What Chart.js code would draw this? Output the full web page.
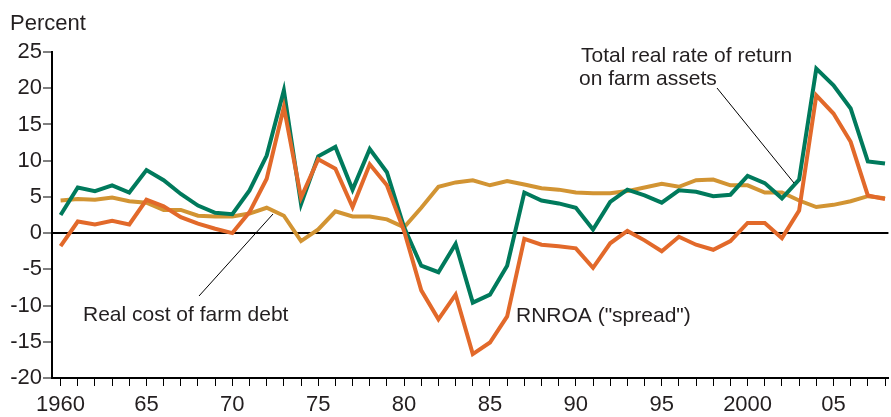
<!DOCTYPE html>
<html>
<head>
<meta charset="utf-8">
<script src="https://cdn.jsdelivr.net/npm/chart.js@4/dist/chart.umd.min.js"></script>
<style>
  body { margin: 0; background: #fff; }
  canvas { display: block; }
</style>
</head>
<body>
<canvas id="myChart" width="891" height="417"></canvas>
<script>
// anos 1960-2008
const years = [];
for (let y = 1960; y <= 2008; y++) years.push(y);

// Total real rate of return on farm assets
const totalReturn = [2.5, 6.3, 5.8, 6.6, 5.6, 8.7, 7.3, 5.4, 3.8, 2.8,
  2.6, 5.9, 10.7, 19.7, 4.0, 10.6, 11.9, 6.0, 11.6, 8.4,
  0.8, -4.5, -5.4, -1.5, -9.6, -8.5, -4.5, 5.6, 4.5, 4.1,
  3.5, 0.5, 4.3, 6.0, 5.2, 4.2, 5.9, 5.7, 5.1, 5.3,
  7.9, 6.9, 4.8, 7.4, 22.7, 20.4, 17.2, 9.9, 9.6];

// RNROA ("spread")
const spread = [-1.8, 1.6, 1.2, 1.7, 1.2, 4.6, 3.7, 2.2, 1.3, 0.6,
  0.0, 2.9, 7.5, 17.4, 4.9, 10.2, 8.9, 3.6, 9.5, 6.6,
  0.3, -7.9, -11.9, -8.5, -16.7, -15.1, -11.5, -0.8, -1.6, -1.8,
  -2.1, -4.8, -1.4, 0.3, -1.0, -2.5, -0.5, -1.6, -2.3, -1.1,
  1.4, 1.4, -0.7, 3.1, 19.0, 16.5, 12.6, 5.2, 4.7];

// Real cost of farm debt
const debtCost = [4.5, 4.7, 4.6, 4.9, 4.4, 4.2, 3.2, 3.2, 2.4, 2.3,
  2.3, 2.7, 3.5, 2.4, -1.1, 0.5, 3.0, 2.3, 2.3, 1.9,
  0.8, 3.5, 6.4, 7.0, 7.3, 6.6, 7.2, 6.7, 6.2, 6.0,
  5.6, 5.5, 5.5, 5.8, 6.3, 6.8, 6.4, 7.3, 7.4, 6.6,
  6.6, 5.6, 5.6, 4.5, 3.6, 3.9, 4.4, 5.1, 4.8];

const yTicks = [-20, -15, -10, -5, 0, 5, 10, 15, 20, 25];

function toPoints(values) {
  return values.map(function(v, i) { return { x: years[i], y: v }; });
}

function xLabel(v) {
  if (v % 5 !== 0) return "";
  if (v === 1960 || v === 2000) return String(v);
  return String(v % 100).padStart(2, "0");
}

const textColor = "#231f20";
const font = "Liberation Sans, Arial, Helvetica, sans-serif";

// textos e linhas de chamada
const annotations = {
  id: "annotations",
  afterDraw: function(chart) {
    const ctx = chart.ctx;
    ctx.save();
    ctx.fillStyle = textColor;
    ctx.textBaseline = "alphabetic";
    ctx.textAlign = "left";
    ctx.font = "22px " + font;
    ctx.fillText("Percent", 10, 30);
    ctx.font = "21px " + font;
    ctx.fillText("Total real rate of return", 581, 62);
    ctx.fillText("on farm assets", 579, 85);
    ctx.fillText("Real cost of farm debt", 83, 321);
    ctx.fillText("RNROA (\"spread\")", 516, 322);

    ctx.strokeStyle = "#000";
    ctx.lineWidth = 1;
    ctx.beginPath();
    ctx.moveTo(717, 88);
    ctx.lineTo(794, 183);
    ctx.moveTo(199, 296);
    ctx.lineTo(273, 214);
    ctx.stroke();
    ctx.restore();
  }
};

const ctx = document.getElementById("myChart").getContext("2d");
new Chart(ctx, {
  type: "line",
  data: {
    datasets: [
      { label: "RNROA (\"spread\")", data: toPoints(spread), borderColor: "#e2692a", order: 0 },
      { label: "Total real rate of return on farm assets", data: toPoints(totalReturn), borderColor: "#007a5c", order: 1 },
      { label: "Real cost of farm debt", data: toPoints(debtCost), borderColor: "#d29433", order: 2 }
    ]
  },
  options: {
    responsive: false,
    animation: false,
    layout: { padding: { top: 52, right: 0, left: 0, bottom: 0 } },
    elements: {
      line: { borderWidth: 4, tension: 0, fill: false },
      point: { radius: 0, hoverRadius: 0 }
    },
    plugins: {
      legend: { display: false },
      tooltip: { enabled: false }
    },
    scales: {
      x: {
        type: "linear",
        min: 1959.5,
        max: 2008.2,
        afterBuildTicks: function(scale) {
          scale.ticks = years.map(function(v) { return { value: v }; });
        },
        afterFit: function(scale) { scale.height = 39; },
        ticks: {
          autoSkip: false,
          maxRotation: 0,
          padding: 6,
          color: textColor,
          font: { family: font, size: 22 },
          callback: function(v) { return xLabel(v); }
        },
        grid: {
          drawOnChartArea: false,
          tickLength: 8,
          tickColor: "#000",
          tickWidth: 1
        },
        border: { display: true, color: "#000", width: 2 }
      },
      y: {
        min: -20,
        max: 25,
        afterBuildTicks: function(scale) {
          scale.ticks = yTicks.map(function(v) { return { value: v }; });
        },
        afterFit: function(scale) { scale.width = 52; },
        ticks: {
          padding: 1,
          color: textColor,
          font: { family: font, size: 22 }
        },
        grid: {
          drawOnChartArea: true,
          color: function(c) { return c.tick && c.tick.value === 0 ? "#000" : "rgba(0,0,0,0)"; },
          lineWidth: function(c) { return c.tick && c.tick.value === 0 ? 2 : 0; },
          tickLength: 9,
          tickColor: "#000",
          tickWidth: 1
        },
        border: { display: true, color: "#000", width: 2 }
      }
    }
  },
  plugins: [annotations]
});
</script>
</body>
</html>
